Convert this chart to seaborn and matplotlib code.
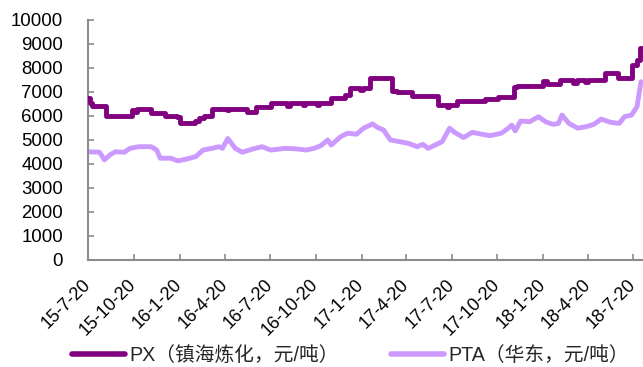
import matplotlib
matplotlib.use("Agg")
import matplotlib.pyplot as plt
import pandas as pd
import seaborn as sns

# PX (Zhenhai Refining) price, yuan/ton: value holds from each date until the next
px_dates = [
    "2015-07-20", "2015-07-23", "2015-07-28", "2015-08-25", "2015-10-16",
    "2015-10-21", "2015-10-26", "2015-11-24", "2015-12-22", "2016-01-14",
    "2016-01-21", "2016-02-20", "2016-02-28", "2016-03-10", "2016-03-25",
    "2016-04-24", "2016-04-28", "2016-06-03", "2016-06-21", "2016-07-22",
    "2016-08-23", "2016-08-29", "2016-09-25", "2016-09-29", "2016-10-22",
    "2016-10-26", "2016-11-20", "2016-12-18", "2016-12-28", "2017-01-17",
    "2017-01-23", "2017-02-06", "2017-03-22", "2017-04-01", "2017-05-02",
    "2017-06-23", "2017-07-10", "2017-07-15", "2017-07-31", "2017-09-25",
    "2017-10-22", "2017-11-23", "2017-11-29", "2018-01-20", "2018-01-28",
    "2018-02-23", "2018-03-21", "2018-03-29", "2018-04-14", "2018-04-20",
    "2018-05-25", "2018-06-20", "2018-07-18", "2018-07-28", "2018-08-03",
    "2018-08-06",
]
px_values = [
    6750, 6550, 6400, 6010, 6250,
    6150, 6290, 6110, 6010, 5960,
    5700, 5800, 5900, 6000, 6290,
    6230, 6290, 6180, 6390, 6540,
    6400, 6540, 6450, 6540, 6440,
    6540, 6736, 6875, 7150, 7080,
    7180, 7570, 7060, 7000, 6830,
    6440, 6380, 6460, 6620, 6700,
    6790, 7200, 7250, 7460, 7350,
    7500, 7380, 7500, 7400, 7500,
    7800, 7570, 8130, 8330, 8850,
    8850,
]

# PTA (East China) price, yuan/ton
pta_dates = [
    "2015-07-20", "2015-08-12", "2015-08-22", "2015-09-02", "2015-09-13",
    "2015-10-01", "2015-10-12", "2015-10-30", "2015-11-24", "2015-12-05",
    "2015-12-12", "2016-01-02", "2016-01-17", "2016-02-04", "2016-02-22",
    "2016-03-07", "2016-03-25", "2016-04-08", "2016-04-15", "2016-04-26",
    "2016-05-11", "2016-05-25", "2016-06-16", "2016-07-04", "2016-07-21",
    "2016-08-19", "2016-09-10", "2016-10-01", "2016-10-16", "2016-10-30",
    "2016-11-13", "2016-11-20", "2016-12-09", "2016-12-23", "2017-01-10",
    "2017-01-24", "2017-02-11", "2017-02-22", "2017-03-05", "2017-03-19",
    "2017-04-06", "2017-04-24", "2017-05-12", "2017-05-23", "2017-06-03",
    "2017-06-20", "2017-07-01", "2017-07-16", "2017-07-26", "2017-08-13",
    "2017-08-31", "2017-09-18", "2017-10-06", "2017-10-28", "2017-11-11",
    "2017-11-18", "2017-11-25", "2017-12-06", "2017-12-24", "2018-01-11",
    "2018-01-25", "2018-02-09", "2018-02-20", "2018-02-27", "2018-03-13",
    "2018-03-31", "2018-04-18", "2018-05-02", "2018-05-17", "2018-06-04",
    "2018-06-22", "2018-07-03", "2018-07-17", "2018-07-28", "2018-08-05",
]
pta_values = [
    4510, 4490, 4170, 4380, 4510,
    4490, 4650, 4720, 4720, 4580,
    4240, 4240, 4130, 4210, 4310,
    4580, 4650, 4720, 4650, 5060,
    4650, 4490, 4630, 4720, 4580,
    4650, 4630, 4580, 4650, 4760,
    5000, 4790, 5140, 5280, 5240,
    5490, 5670, 5510, 5420, 5000,
    4930, 4860, 4720, 4820, 4650,
    4820, 4930, 5490, 5320, 5100,
    5320, 5240, 5180, 5280, 5490,
    5620, 5380, 5790, 5760, 5970,
    5760, 5650, 5690, 6040, 5690,
    5490, 5560, 5650, 5870, 5740,
    5690, 5970, 6040, 6390, 7430,
]

tick_dates = [
    "2015-07-20", "2015-10-20", "2016-01-20", "2016-04-20", "2016-07-20",
    "2016-10-20", "2017-01-20", "2017-04-20", "2017-07-20", "2017-10-20",
    "2018-01-20", "2018-04-20", "2018-07-20",
]
tick_labels = [
    "15-7-20", "15-10-20", "16-1-20", "16-4-20", "16-7-20", "16-10-20",
    "17-1-20", "17-4-20", "17-7-20", "17-10-20", "18-1-20", "18-4-20", "18-7-20",
]
y_ticks = [0, 1000, 2000, 3000, 4000, 5000, 6000, 7000, 8000, 9000, 10000]

PX_LABEL = "PX（镇海炼化，元/吨）"
PTA_LABEL = "PTA（华东，元/吨）"
PX_COLOR = "#800080"
PTA_COLOR = "#CC99FF"
AXIS_GRAY = "#8c8c8c"

sns.set_theme(style="white")
plt.rcParams["font.family"] = ["Liberation Sans", "Noto Sans CJK SC", "DejaVu Sans"]

px_df = pd.DataFrame({"date": pd.to_datetime(px_dates), "price": px_values})
pta_df = pd.DataFrame({"date": pd.to_datetime(pta_dates), "price": pta_values})

fig = plt.figure(figsize=(6.43, 3.67), dpi=100)
ax = fig.add_axes([0.137, 0.2916, 0.863, 0.654])

sns.lineplot(data=px_df, x="date", y="price", ax=ax, color=PX_COLOR,
             linewidth=3.5, drawstyle="steps-post", label=PX_LABEL,
             solid_joinstyle="round", solid_capstyle="round", zorder=3)
sns.lineplot(data=pta_df, x="date", y="price", ax=ax, color=PTA_COLOR,
             linewidth=3.5, label=PTA_LABEL,
             solid_joinstyle="round", solid_capstyle="round", zorder=2)

ax.set_xlim(pd.Timestamp("2015-07-20"), pd.Timestamp("2018-08-09"))
ax.set_ylim(0, 10000)
ax.set_yticks(y_ticks)
ax.set_yticklabels([str(v) for v in y_ticks])
ax.set_xticks(pd.to_datetime(tick_dates))
ax.set_xticklabels(tick_labels, rotation=45, ha="right", va="center",
                   rotation_mode="anchor")
ax.set_xlabel("")
ax.set_ylabel("")

for side in ("top", "right"):
    ax.spines[side].set_visible(False)
for side in ("left", "bottom"):
    ax.spines[side].set_color(AXIS_GRAY)
    ax.spines[side].set_linewidth(1.5)

ax.tick_params(axis="y", direction="in", length=4, width=1.2, color=AXIS_GRAY,
               labelsize=13.4, labelcolor="black", pad=18, left=True)
ax.tick_params(axis="x", direction="in", length=4, width=1.2, color=AXIS_GRAY,
               labelsize=13, labelcolor="black", pad=16, bottom=True)

leg = ax.legend(loc="center", bbox_to_anchor=(0.545, 0.032),
                bbox_transform=fig.transFigure, ncol=2, frameon=False,
                fontsize=14.2, handlelength=2.7, handletextpad=0.25,
                columnspacing=2.6, borderaxespad=0)
for line in leg.get_lines():
    line.set_linewidth(4)

fig.savefig("out.png", dpi=100)
